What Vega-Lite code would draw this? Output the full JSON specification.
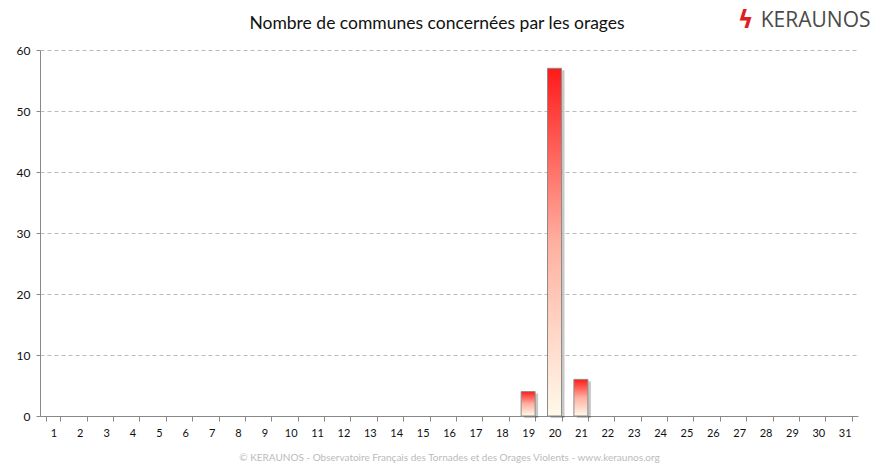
{
  "$schema": "https://vega.github.io/schema/vega-lite/v6.json",
  "width": 818,
  "height": 366,
  "autosize": "none",
  "padding": {"left": 40, "top": 50, "right": 16, "bottom": 56},
  "background": "white",
  "title": {
    "text": "Nombre de communes concernées par les orages",
    "font": "Lato",
    "fontSize": 17.5,
    "fontWeight": "normal",
    "color": "#111",
    "anchor": "middle",
    "dx": -12,
    "offset": -24
  },
  "config": {"view": {"stroke": null}},
  "data": {"values": [
    {"jour": 1, "n": 0}, {"jour": 2, "n": 0}, {"jour": 3, "n": 0}, {"jour": 4, "n": 0},
    {"jour": 5, "n": 0}, {"jour": 6, "n": 0}, {"jour": 7, "n": 0}, {"jour": 8, "n": 0},
    {"jour": 9, "n": 0}, {"jour": 10, "n": 0}, {"jour": 11, "n": 0}, {"jour": 12, "n": 0},
    {"jour": 13, "n": 0}, {"jour": 14, "n": 0}, {"jour": 15, "n": 0}, {"jour": 16, "n": 0},
    {"jour": 17, "n": 0}, {"jour": 18, "n": 0}, {"jour": 19, "n": 4}, {"jour": 20, "n": 57},
    {"jour": 21, "n": 6}, {"jour": 22, "n": 0}, {"jour": 23, "n": 0}, {"jour": 24, "n": 0},
    {"jour": 25, "n": 0}, {"jour": 26, "n": 0}, {"jour": 27, "n": 0}, {"jour": 28, "n": 0},
    {"jour": 29, "n": 0}, {"jour": 30, "n": 0}, {"jour": 31, "n": 0}
  ]},
  "resolve": {"axis": {"x": "independent"}},
  "layer": [
    {
      "mark": {"type": "tick", "opacity": 0},
      "encoding": {
        "x": {"field": "jour", "type": "ordinal", "sort": "ascending", "scale": {"paddingInner": 0.47, "paddingOuter": 0.24},
          "axis": {
            "orient": "bottom",
            "title": "© KERAUNOS - Observatoire Français des Tornades et des Orages Violents - www.keraunos.org",
            "titleFont": "Lato", "titleFontSize": 10, "titleFontWeight": "normal", "titleColor": "#bbb",
            "titlePadding": 14,
            "labelAngle": 0, "labelFont": "Lato", "labelFontSize": 11, "labelColor": "#111", "labelPadding": 6,
            "tickBand": "extent", "tickSize": 5, "tickColor": "#888", "domainColor": "#888", "grid": false
          }},
        "y": {"field": "n", "type": "quantitative", "scale": {"domain": [0, 60]},
          "axis": {
            "values": [0, 10, 20, 30, 40, 50, 60], "title": null,
            "labelFont": "Lato", "labelFontSize": 12, "labelColor": "#111", "labelPadding": 6,
            "tickSize": 4, "tickColor": "#888", "domainColor": "#888",
            "gridColor": "#bbb", "gridDash": [4, 3], "gridWidth": 1
          }}
      }
    },
    {
      "transform": [{"filter": "datum.n > 0"}],
      "mark": {"type": "bar", "color": "#000", "opacity": 0.22, "xOffset": 3, "yOffset": 2},
      "encoding": {
        "x": {"field": "jour", "type": "ordinal", "sort": "ascending",
          "axis": {
            "orient": "top", "title": "ϟ", "labels": false, "ticks": false, "domain": false,
            "titleFont": "DejaVu Sans", "titleFontSize": 24, "titleFontWeight": "bold", "titleColor": "#e02020",
            "titleAnchor": "end", "titleX": 713, "titleY": -18
          }},
        "y": {"field": "n", "type": "quantitative"}
      }
    },
    {
      "transform": [{"filter": "datum.n > 0"}],
      "mark": {"type": "bar", "stroke": "#8c8c8c", "strokeWidth": 1,
        "color": {"gradient": "linear", "x1": 0, "y1": 1, "x2": 0, "y2": 0,
          "stops": [{"offset": 0, "color": "#fff9ea"}, {"offset": 0.5, "color": "#ffb0a0"}, {"offset": 1, "color": "#ff1a1a"}]}},
      "encoding": {
        "x": {"field": "jour", "type": "ordinal", "sort": "ascending",
          "axis": {
            "orient": "top", "title": "KERAUNOS", "labels": false, "ticks": false, "domain": false,
            "titleFont": "Open Sans", "titleFontSize": 21, "titleFontWeight": "normal", "titleColor": "#4a4a4a",
            "titleAnchor": "end", "titleX": 830, "titleY": -20
          }},
        "y": {"field": "n", "type": "quantitative"}
      }
    }
  ]
}
